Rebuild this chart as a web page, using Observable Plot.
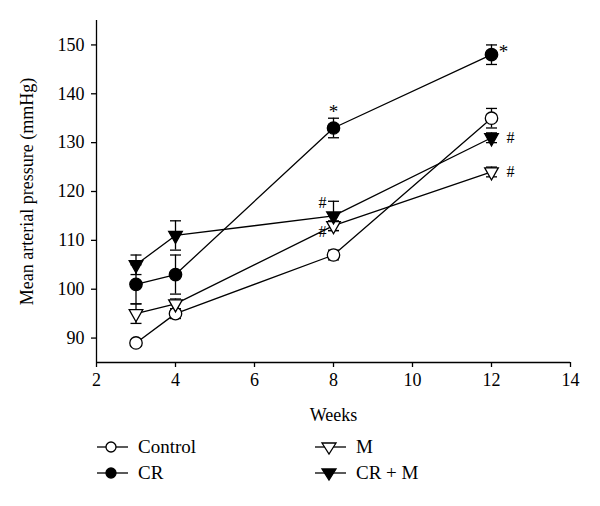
<!DOCTYPE html>
<html><head><meta charset="utf-8">
<script src="https://cdn.jsdelivr.net/npm/d3@7"></script>
<script src="https://cdn.jsdelivr.net/npm/@observablehq/plot@0.6"></script>
<style>
body{margin:0;background:#fff;font-family:"Liberation Serif","Times New Roman",serif;}
#chart{position:relative;width:600px;height:506px;overflow:hidden;}
.leg{position:absolute;height:26px;display:flex;align-items:center;font-size:19px;color:#000;white-space:nowrap;}
.leg svg{display:block;margin-right:9px;}
</style></head><body><div id="chart"></div>
<script>
// ---- data ----
const weeks = [3, 4, 8, 12];
const seriesNames = ["Control", "CR", "M", "CR + M"];
const control = [89, 95, 107, 135];
const controlErr = [0.6, 1, 1, 2];
const cr = [101, 103, 133, 148];
const crErr = [4, 4, 2, 2];
const m = [95, 97, 113, 124];
const mErr = [2, 1, 1, 1];
const crm = [105, 111, 115, 131];
const crmErr = [2, 3, 3, 1];
const xTicks = [2, 4, 6, 8, 10, 12, 14];
const yTicks = [90, 100, 110, 120, 130, 140, 150];
const xDomain = [2, 14];
const yDomain = [85, 155];
// annotations: [series, week, label]
const annAbove = [["CR", 8, "*"]];
const annStar12 = [["CR", 12, "*"]];
const annRight = [["CR + M", 12, "#"], ["M", 12, "#"]];
const annLeftUp = [["CR + M", 8, "#"]];
const annLeftDown = [["M", 8, "#"]];

const values = {"Control": control, "CR": cr, "M": m, "CR + M": crm};
const errs = {"Control": controlErr, "CR": crErr, "M": mErr, "CR + M": crmErr};
const data = seriesNames.flatMap(s => weeks.map((w, i) => ({series: s, week: w, value: values[s][i], err: errs[s][i]})));
const lookup = (s, w) => values[s][weeks.indexOf(w)];
const annRows = arr => arr.map(([s, w, t]) => ({week: w, value: lookup(s, w), text: t}));

const triDown = {draw(ctx, size) { const r = Math.sqrt(size / Math.PI); const a = r * 1.1, t = r * 0.65, b = r * 1.3; ctx.moveTo(-a, -t); ctx.lineTo(a, -t); ctx.lineTo(0, b); ctx.closePath(); }};
const cap = {draw(ctx, size) { ctx.moveTo(-5.5, 0); ctx.lineTo(5.5, 0); }};
const symbolOf = {"Control": "circle", "CR": "circle", "M": triDown, "CR + M": triDown};
const fillOf = {"Control": "white", "CR": "black", "M": "white", "CR + M": "black"};

const font = '"Liberation Serif","Times New Roman",serif';
const sw = 1.3;

const plot = Plot.plot({
  width: 600, height: 430,
  marginTop: 20, marginBottom: 68, marginLeft: 96, marginRight: 30,
  style: {fontFamily: font, fontSize: "18px", color: "black", background: "white"},
  x: {domain: xDomain, ticks: xTicks},
  y: {domain: yDomain, ticks: yTicks},
  marks: [
    Plot.ruleX([xDomain[0]], {stroke: "black", strokeWidth: sw}),
    Plot.ruleY([yDomain[0]], {stroke: "black", strokeWidth: sw}),
    Plot.axisX({ticks: xTicks, tickSize: 5, tickPadding: 6, strokeWidth: sw, fontSize: 18, label: "Weeks", labelAnchor: "center", labelArrow: "none", labelOffset: 58}),
    Plot.axisY({ticks: yTicks, tickSize: 5, tickPadding: 7, strokeWidth: sw, fontSize: 18, label: "Mean arterial pressure (mmHg)", labelAnchor: "center", labelArrow: "none", labelOffset: 76}),
    Plot.line(data, {x: "week", y: "value", z: "series", stroke: "black", strokeWidth: sw}),
    Plot.ruleX(data, {x: "week", y1: d => d.value - d.err, y2: d => d.value + d.err, stroke: "black", strokeWidth: sw}),
    Plot.dot(data, {x: "week", y: d => d.value + d.err, symbol: () => cap, r: 3, stroke: "black", strokeWidth: sw}),
    Plot.dot(data, {x: "week", y: d => d.value - d.err, symbol: () => cap, r: 3, stroke: "black", strokeWidth: sw}),
    ...seriesNames.map(s => Plot.dot(data.filter(d => d.series === s), {x: "week", y: "value", symbol: () => symbolOf[s], r: 6.2, fill: fillOf[s], stroke: "black", strokeWidth: sw})),
    Plot.text(annRows(annAbove), {x: "week", y: "value", text: "text", dy: -16, fontSize: 19}),
    Plot.text(annRows(annStar12), {x: "week", y: "value", text: "text", dx: 12, dy: -3, fontSize: 19}),
    Plot.text(annRows(annRight), {x: "week", y: "value", text: "text", dx: 19, dy: 0, fontSize: 16}),
    Plot.text(annRows(annLeftUp), {x: "week", y: "value", text: "text", dx: -11, dy: -13, fontSize: 16}),
    Plot.text(annRows(annLeftDown), {x: "week", y: "value", text: "text", dx: -11, dy: 6, fontSize: 16})
  ]
});
const chart = document.getElementById("chart");
chart.appendChild(plot);

// legend (below the SVG)
const legPos = {"Control": [95, 434], "CR": [95, 460], "M": [313, 434], "CR + M": [313, 460]};
seriesNames.forEach(s => {
  const item = document.createElement("div");
  item.className = "leg";
  item.style.left = legPos[s][0] + "px";
  item.style.top = legPos[s][1] + "px";
  const isTri = symbolOf[s] !== "circle";
  const marker = isTri
    ? `<path d="M9,9 L23,9 L16,20 Z" fill="${fillOf[s]}" stroke="black" stroke-width="${sw}"/>`
    : `<circle cx="16" cy="13" r="5" fill="${fillOf[s]}" stroke="black" stroke-width="${sw}"/>`;
  item.innerHTML = `<svg width="34" height="26"><line x1="2" x2="33" y1="13" y2="13" stroke="black" stroke-width="${sw}"/>${marker}</svg><span>${s}</span>`;
  chart.appendChild(item);
});
</script></body></html>
